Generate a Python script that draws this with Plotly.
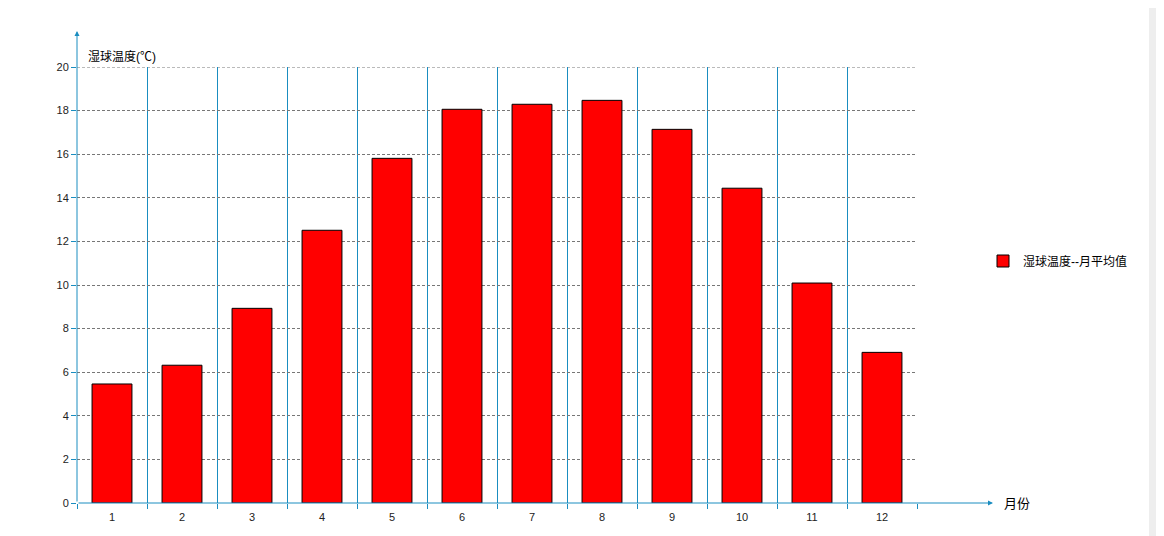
import plotly.graph_objects as go

months = [1, 2, 3, 4, 5, 6, 7, 8, 9, 10, 11, 12]
month_labels = ["1", "2", "3", "4", "5", "6", "7", "8", "9", "10", "11", "12"]
wet_bulb = [5.46, 6.32, 8.93, 12.51, 15.81, 18.06, 18.29, 18.47, 17.14, 14.44, 10.09, 6.91]
y_ticks = [0, 2, 4, 6, 8, 10, 12, 14, 16, 18, 20]
series_name = "湿球温度--月平均值"
y_title = "湿球温度(℃)"
x_title = "月份"

AX = "#1a8dc0"
GRID = "#777777"
FONT = "Liberation Sans, Noto Sans CJK SC, sans-serif"

OFF = 8  # page body margin
W, H = 1164 - OFF, 536 - OFF
# page-coordinate plot box
PL, PR, PT, PB = 77, 917, 67, 503
L, T = PL - OFF, PT - OFF
R = W - (PR - OFF)
B = H - (PB - OFF)
pw, ph = PR - PL, PB - PT

def px_x(p):
    return (p - PL) / pw

def px_y(p):
    return (PB - p) / ph

fig = go.Figure()
fig.add_trace(go.Bar(
    x=months, y=wet_bulb, name=series_name, width=0.57,
    marker=dict(color="#ff0000", line=dict(color="#000000", width=1)),
    showlegend=True,
))

fig.update_layout(
    width=W, height=H,
    margin=dict(l=L, r=R, t=T, b=B, pad=0),
    paper_bgcolor="white", plot_bgcolor="white",
    font=dict(family=FONT, size=11, color="#222222"),
    xaxis=dict(
        range=[0.5, 12.5], tickmode="array", tickvals=months, ticktext=month_labels,
        ticks="", showgrid=False, zeroline=False, showline=False,
        ticklabelstandoff=6,
        tickfont=dict(size=11, color="#222222"),
        minor=dict(tickmode="linear", tick0=0.5, dtick=1, showgrid=True,
                   gridcolor=AX, gridwidth=1, ticks="outside", ticklen=5,
                   tickcolor=AX, tickwidth=1),
    ),
    yaxis=dict(
        range=[0, 20], tickmode="array", tickvals=y_ticks,
        ticks="outside", ticklen=5, tickcolor=AX, tickwidth=1,
        showgrid=True, gridcolor=GRID, griddash="3px,2px", gridwidth=1,
        zeroline=False, showline=False,
        tickfont=dict(size=11, color="#222222"),
    ),
    legend=dict(x=px_x(983), y=px_y(261), xanchor="left", yanchor="middle",
                font=dict(size=12, color="#000000"), bgcolor="rgba(0,0,0,0)"),
    showlegend=True,
)

# top gridline at the range edge (plotly omits it)
fig.add_shape(type="line", xref="paper", yref="y", x0=0, x1=1,
              y0=y_ticks[-1], y1=y_ticks[-1],
              line=dict(color=GRID, width=1, dash="3px,2px"), layer="below")

# axis arrows
fig.add_annotation(x=0, y=px_y(31), xref="paper", yref="paper", ax=0, ay=PB - 31,
                   showarrow=True, arrowhead=2,
                   arrowsize=1, arrowwidth=1, arrowcolor=AX, text="", standoff=0)
fig.add_annotation(x=px_x(993), y=0, xref="paper", yref="paper", ax=-(993 - PL), ay=0,
                   showarrow=True, arrowhead=2, arrowsize=1, arrowwidth=1,
                   arrowcolor=AX, text="", standoff=0)

fig.add_annotation(x=px_x(1002), y=0, xref="paper", yref="paper", text=x_title,
                   showarrow=False, xanchor="left", yanchor="middle",
                   font=dict(size=13, color="#000000"))
fig.add_annotation(x=px_x(86), y=px_y(56), xref="paper", yref="paper", text=y_title,
                   showarrow=False, xanchor="left", yanchor="middle",
                   font=dict(size=12, color="#000000"))

# browser scrollbar strip
fig.add_shape(type="rect", xref="paper", yref="paper",
              x0=px_x(1149), x1=px_x(1166), y0=px_y(540), y1=px_y(0),
              fillcolor="#eeeeee", line=dict(width=0), layer="above")
fig.add_shape(type="line", xref="paper", yref="paper",
              x0=px_x(1160.5), x1=px_x(1160.5), y0=px_y(540), y1=px_y(0),
              line=dict(color="#cccccc", width=1), layer="above")

fig.write_html("out.html")
